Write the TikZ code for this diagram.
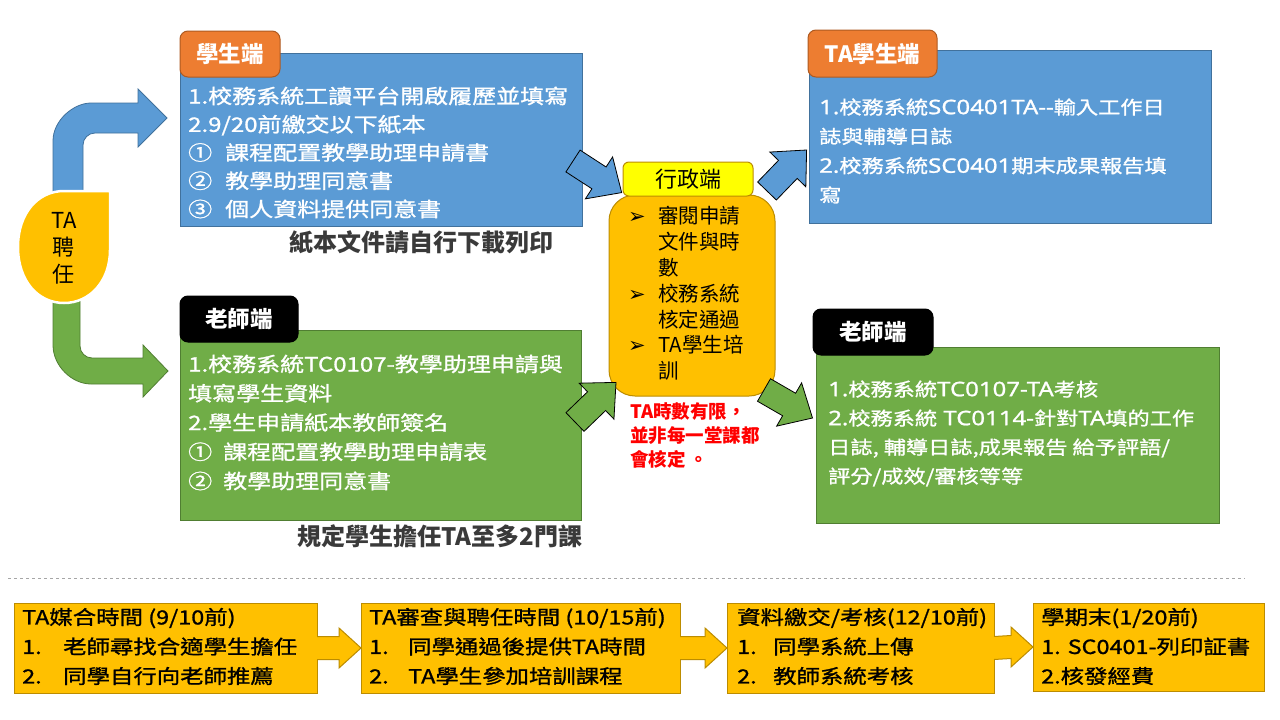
\documentclass[tikz,border=0pt]{standalone}
\usepackage{fontspec}
\setmainfont{Noto Sans CJK TC}
\newfontfamily\medf[FakeBold=1.1,FakeStretch=1.2]{Noto Sans CJK TC}
\newfontfamily\lat[Scale=1.08,FakeBold=1.1,FakeStretch=1.2]{Noto Sans}
\newfontfamily\dejavu{DejaVu Sans}
\usetikzlibrary{calc}
\definecolor{cblue}{HTML}{5B9BD5}
\definecolor{cbluedk}{HTML}{41719C}
\definecolor{corange}{HTML}{ED7D31}
\definecolor{corangedk}{HTML}{AE5A21}
\definecolor{cgreen}{HTML}{70AD47}
\definecolor{cgreendk}{HTML}{507E32}
\definecolor{cgold}{HTML}{FFC000}
\definecolor{cgolddk}{HTML}{BC8C00}
\definecolor{cyel}{HTML}{FFFF00}
\definecolor{cnote}{HTML}{3A3A3A}
\definecolor{cdash}{HTML}{A6A6A6}
\definecolor{cred}{HTML}{FF0000}
\newcommand\blockarr[4]{%
  \begin{scope}[shift={#1},rotate=#2]
    \draw[fill=#4, draw=black, line width=0.8pt, line join=miter]
      (0,-13) -- ({#3-27},-13) -- ({#3-27},-25) -- (#3,0) -- ({#3-27},25) -- ({#3-27},13) -- (0,13) -- cycle;
  \end{scope}}
\newcommand\chev[2]{%
  \fill[cgold] ($(#1.east)+(-1.5,-11.5)$) -- ($(#2.west)+(-22,-11.5)$) -- ($(#2.west)+(-22,-20)$) -- (#2.west)
     -- ($(#2.west)+(-22,20)$) -- ($(#2.west)+(-22,11.5)$) -- ($(#1.east)+(-1.5,11.5)$) -- cycle;
  \draw[cgolddk, line width=1pt, line join=miter] ($(#1.east)+(0,-11.5)$) -- ($(#2.west)+(-22,-11.5)$) -- ($(#2.west)+(-22,-20)$) -- (#2.west)
     -- ($(#2.west)+(-22,20)$) -- ($(#2.west)+(-22,11.5)$) -- ($(#1.east)+(0,11.5)$);}
\newcommand\bul{\makebox[30pt][l]{\dejavu\fontsize{21}{21}\selectfont ➢}}
\begin{document}
\begin{tikzpicture}[x=1pt,y=-1pt,
  boxs/.style={draw, line width=1pt, inner sep=0pt, outer sep=0pt, anchor=north west},
  tabs/.style={boxs, rounded corners=8pt, text=white, font=\fontsize{22.5}{22.5}\selectfont\bfseries},
  btxt/.style={anchor=west, align=left, inner sep=0pt, text=white},
  ytxt/.style={anchor=west, align=left, inner sep=0pt, text=black, font=\medf\fontsize{19.5}{29.5}\selectfont},
  gbox/.style={boxs, fill=cgold, draw=cgolddk, minimum height=90pt},
  note/.style={inner sep=0pt, text=cnote, font=\fontsize{24}{24}\selectfont\bfseries}
]
\fill[white] (0,0) rectangle (1280,720);
\useasboundingbox (0,0) rectangle (1280,720);

% curved arrows from TA hiring
\draw[fill=cblue, draw=cbluedk, line width=0.8pt, line join=miter]
  (53,195) -- (53,141) .. controls (53,120) and (74,103) .. (91,103) -- (138,103) -- (138,89) -- (167,118)
  -- (138,147) -- (138,133) -- (95,133) .. controls (88.4,133) and (83,138.4) .. (83,145) -- (83,195) -- cycle;
\draw[fill=cgreen, draw=cgreendk, line width=0.8pt, line join=miter]
  (53,298) -- (53,345) .. controls (53,366) and (72,384) .. (91,384) -- (143,384) -- (143,397) -- (168,371)
  -- (143,345) -- (143,358) -- (92,358) .. controls (85.4,358) and (80,352.6) .. (80,346) -- (80,298) -- cycle;
\path[fill=cgold, draw=white, line width=2.5pt]
  (110,191) -- (110,250) .. controls (110,281) and (90,303) .. (64,303) .. controls (38,303) and (18,281) .. (18,247)
  .. controls (18,213) and (38,191) .. (64,191) -- cycle;
\node[align=center, inner sep=0pt, font=\fontsize{22}{27}\selectfont] (tear) at (64,248) {TA\\聘\\任};

% student side
\node[boxs, fill=cblue, draw=cbluedk, minimum width=402pt, minimum height=173pt] (sbox) at (180,53) {};
\node[tabs, fill=corange, draw=corangedk, minimum width=100pt, minimum height=46pt] (stab) at (180,31) {學生端};
\node[btxt, font=\medf\fontsize{20}{28.25}\selectfont] (stxt) at (188,152.5)
  {1.校務系統工讀平台開啟履歷並填寫\\2.9/20前繳交以下紙本\\\makebox[37pt][l]{①}課程配置教學助理申請書\\\makebox[37pt][l]{②}教學助理同意書\\\makebox[37pt][l]{③}個人資料提供同意書};
\node[note] (snote) at (421,242) {紙本文件請自行下載列印};

% teacher side
\node[boxs, fill=cgreen, draw=cgreendk, minimum width=401pt, minimum height=190pt] (tbox) at (180,330) {};
\node[tabs, fill=black, draw=black, minimum width=118pt, minimum height=46pt] (ttab) at (180,296) {老師端};
\node[btxt, font=\medf\fontsize{20}{29.25}\selectfont] (ttxt) at (188,422.5)
  {1.校務系統TC0107-教學助理申請與\\填寫學生資料\\2.學生申請紙本教師簽名\\\makebox[35pt][l]{①}課程配置教學助理申請表\\\makebox[35pt][l]{②}教學助理同意書};
\node[note] (tnote) at (440,536) {規定學生擔任TA至多2門課};

% admin
\node[boxs, fill=cgold, draw=cgolddk, rounded corners=26pt, minimum width=166pt, minimum height=201pt] (abox) at (609,195) {};
\node[boxs, fill=cyel, draw=cgolddk, rounded corners=6pt, minimum width=130pt, minimum height=34pt, font=\fontsize{22}{22}\selectfont] (alab) at (623,162) {行政端};
\node[anchor=west, align=left, inner sep=0pt, font=\fontsize{20.5}{25.8}\selectfont] (atxt) at (628,293.5)
  {\bul 審閱申請\\\hspace*{30pt}文件與時\\\hspace*{30pt}數\\
   \bul 校務系統\\\hspace*{30pt}核定通過\\
   \bul TA學生培\\\hspace*{30pt}訓};
\node[anchor=west, align=left, inner sep=0pt, text=cred, font=\fontsize{18.5}{24}\selectfont\bfseries] (ared) at (630,435.5)
  {TA時數有限，\\並非每一堂課都\\會核定 。};

% TA student side
\node[boxs, fill=cblue, draw=cbluedk, minimum width=402pt, minimum height=173pt] (rbox) at (809,50) {};
\node[tabs, fill=corange, draw=corangedk, minimum width=129pt, minimum height=47pt] (rtab) at (808,30) {TA學生端};
\node[btxt, font=\medf\fontsize{18.5}{29.3}\selectfont] (rtxt) at (819,151)
  {{\lat 1.}校務系統{\lat SC0401TA-{}-}輸入工作日\\誌與輔導日誌\\{\lat 2.}校務系統{\lat SC0401}期末成果報告填\\寫};

% teacher right
\node[boxs, fill=cgreen, draw=cgreendk, minimum width=403pt, minimum height=176pt] (gbox2) at (816,347) {};
\node[tabs, fill=black, draw=black, minimum width=120pt, minimum height=46pt] (gtab) at (813,309) {老師端};
\node[btxt, font=\medf\fontsize{18.5}{29}\selectfont] (gtxt) at (828,433.5)
  {{\lat 1.}校務系統{\lat TC0107-TA}考核\\{\lat 2.}校務系統{\lat\ TC0114-}針對{\lat TA}填的工作\\日誌, 輔導日誌,成果報告 給予評語/\\評分/成效/審核等等};

% block arrows
\blockarr{(573,161)}{-33}{58}{cblue}
\blockarr{(767,191)}{46}{57}{cblue}
\blockarr{(575,422)}{44}{57}{cgreen}
\blockarr{(764,390)}{-30}{56}{cgreen}

% separator
\draw[cdash, dashed, line width=1pt] (8,578) -- (1245,578);

% timeline
\node[gbox, minimum width=303pt] (b1) at (14,603) {};
\node[gbox, minimum width=319pt] (b2) at (361,603) {};
\node[gbox, minimum width=267pt] (b3) at (727,603) {};
\node[gbox, minimum width=231pt, minimum height=88pt] (b4) at (1033,603) {};
\chev{b1}{b2}
\chev{b2}{b3}
\chev{b3}{b4}
\node[ytxt] (t1) at (22,646.5) {TA媒合時間 (9/10前)\\\makebox[41pt][l]{1.}老師尋找合適學生擔任\\\makebox[41pt][l]{2.}同學自行向老師推薦};
\node[ytxt] (t2) at (369,646.5) {TA審查與聘任時間 (10/15前)\\\makebox[39pt][l]{1.}同學通過後提供TA時間\\\makebox[39pt][l]{2.}TA學生參加培訓課程};
\node[ytxt] (t3) at (737,646.5) {資料繳交/考核(12/10前)\\\makebox[36pt][l]{1.}同學系統上傳\\\makebox[36pt][l]{2.}教師系統考核};
\node[ytxt] (t4) at (1041,646.5) {學期末(1/20前)\\1. SC0401-列印証書\\2.核發經費};
\end{tikzpicture}
\end{document}
